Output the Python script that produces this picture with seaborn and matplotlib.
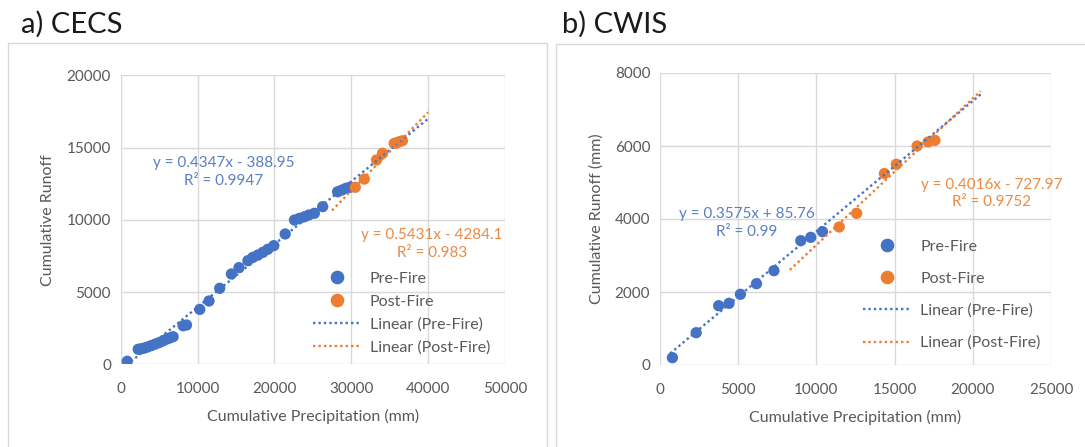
import matplotlib
matplotlib.use("Agg")
import matplotlib.pyplot as plt
import seaborn as sns
import numpy as np
import pandas as pd
from matplotlib.lines import Line2D
from matplotlib.patches import Rectangle

# ---------------- data ----------------
cecs_pre_x = [850, 2280, 2700, 3100, 3500, 4000, 4500, 5000, 5500, 6000, 6400, 6820,
              8120, 8560, 10290, 11490, 12880, 14400, 15390, 16550, 17200, 17850,
              18500, 19140, 19920, 21400, 22610, 23260, 23900, 24470, 25200, 26280,
              28220, 28790, 29310, 29830]
cecs_pre_y = [210, 1040, 1080, 1130, 1200, 1300, 1400, 1500, 1620, 1750, 1830, 1910,
              2670, 2720, 3800, 4380, 5260, 6250, 6690, 7170, 7400, 7560,
              7750, 7960, 8210, 9020, 9985, 10100, 10210, 10330, 10450, 10910,
              11940, 12060, 12180, 12250]
cecs_post_x = [30520, 31690, 33280, 34060, 35580, 35900, 36230, 36650]
cecs_post_y = [12250, 12820, 14140, 14600, 15290, 15320, 15400, 15470]

cwis_pre_x = [792, 2314, 3750, 4414, 5141, 6170, 7284, 9000, 9640, 10390]
cwis_pre_y = [200, 885, 1625, 1690, 1937, 2227, 2584, 3406, 3498, 3652]
cwis_post_x = [11460, 12575, 14345, 15110, 16440, 17140, 17580]
cwis_post_y = [3781, 4155, 5245, 5500, 6000, 6110, 6155]

# trendline equations (slope, intercept) and drawn x-range
cecs_pre_fit = (0.4347, -388.95)
cecs_post_fit = (0.5431, -4284.1)
cwis_pre_fit = (0.3575, 85.76)
cwis_post_fit = (0.4016, -727.97)
cecs_pre_range = [800, 40000]
cecs_post_range = [27500, 40000]
cwis_pre_range = [650, 20500]
cwis_post_range = [8300, 20500]

cecs_pre_label = ["y = 0.4347x - 388.95", "R² = 0.9947"]
cecs_post_label = ["y = 0.5431x - 4284.1", "R² = 0.983"]
cwis_pre_label = ["y = 0.3575x + 85.76", "R² = 0.99"]
cwis_post_label = ["y = 0.4016x - 727.97", "R² = 0.9752"]

# ---------------- style ----------------
sns.set_theme(style="whitegrid")
FONT = ["Lato", "DejaVu Sans"]
plt.rcParams["font.family"] = FONT

BLUE = "#4472C4"
ORANGE = "#ED7D31"
BLUE_TXT = "#5A7FC2"
ORANGE_TXT = "#E98B45"
GRID = "#D9D9D9"
TXT = "#595959"

fig = plt.figure(figsize=(10.85, 4.47), dpi=100)
W, H = 1085, 447


def ax_rect(x0, x1, ytop, ybot):
    return [x0 / W, 1 - ybot / H, (x1 - x0) / W, (ybot - ytop) / H]


ax1 = fig.add_axes(ax_rect(120.7, 505.0, 75.3, 364.3))
ax2 = fig.add_axes(ax_rect(660.0, 1051.0, 73.0, 365.0))

# panel frames
fig.patches.append(Rectangle((8.3 / W, -0.05), (546.7 - 8.3) / W, 1 - 43.3 / H + 0.05,
                             transform=fig.transFigure, fill=False, edgecolor=GRID, lw=1.0))
fig.patches.append(Rectangle((556 / W, -0.05), 0.6, 1 - 44.3 / H + 0.05,
                             transform=fig.transFigure, fill=False, edgecolor=GRID, lw=1.0))

fig.text(21 / W, 1 - 33 / H, "a) CECS", fontsize=21, color="#1a1a1a", va="baseline", ha="left")
fig.text(562 / W, 1 - 33 / H, "b) CWIS", fontsize=21, color="#1a1a1a", va="baseline", ha="left")


def panel(ax, prex, prey, postx, posty, prefit, postfit, prer, postr,
          xlim, xticks, ylim, yticks, ylabel, lab_pre, lab_post,
          pos_pre, pos_post, leg_anchor, leg_spacing):
    df = pd.DataFrame({
        "x": list(prex) + list(postx),
        "y": list(prey) + list(posty),
        "grp": ["Pre-Fire"] * len(prex) + ["Post-Fire"] * len(postx),
    })
    sns.scatterplot(data=df, x="x", y="y", hue="grp",
                    palette={"Pre-Fire": BLUE, "Post-Fire": ORANGE},
                    s=66, edgecolor="none", ax=ax, legend=False, zorder=3)
    for fit, rng, col in [(prefit, prer, BLUE), (postfit, postr, ORANGE)]:
        xs = np.array(rng, dtype=float)
        ys = fit[0] * xs + fit[1]
        sns.lineplot(x=xs, y=ys, ax=ax, color=col, lw=1.7,
                     linestyle=(0, (1.0, 1.3)), zorder=4, legend=False)
    ax.set_xlim(*xlim)
    ax.set_ylim(*ylim)
    ax.set_xticks(xticks)
    ax.set_yticks(yticks)
    ax.grid(True, color=GRID, lw=1.0)
    for s in ax.spines.values():
        s.set_visible(False)
    ax.tick_params(axis="both", colors=GRID, labelcolor=TXT, labelsize=11,
                   length=4, width=1.0, direction="out")
    ax.tick_params(axis="x", pad=9)
    ax.tick_params(axis="y", pad=3)
    ax.set_xlabel("Cumulative Precipitation (mm)", fontsize=11.5, color=TXT, labelpad=9)
    ax.set_ylabel(ylabel, fontsize=11.5, color=TXT, labelpad=8)
    ax.set_facecolor("white")

    ax.text(pos_pre[0], pos_pre[1], lab_pre[0] + "\n" + lab_pre[1], color=BLUE_TXT,
            fontsize=11, ha="center", va="center", linespacing=1.35, zorder=5)
    ax.text(pos_post[0], pos_post[1], lab_post[0] + "\n" + lab_post[1], color=ORANGE_TXT,
            fontsize=11, ha="center", va="center", linespacing=1.35, zorder=5)

    handles = [
        Line2D([], [], marker="o", ls="none", color=BLUE, markersize=8.8, label="Pre-Fire"),
        Line2D([], [], marker="o", ls="none", color=ORANGE, markersize=8.8, label="Post-Fire"),
        Line2D([], [], color=BLUE, lw=1.7, ls=(0, (1.0, 1.3)), label="Linear (Pre-Fire)"),
        Line2D([], [], color=ORANGE, lw=1.7, ls=(0, (1.0, 1.3)), label="Linear (Post-Fire)"),
    ]
    leg = ax.legend(handles=handles, loc="upper left", bbox_to_anchor=leg_anchor,
                    frameon=False, fontsize=11.5, handlelength=3.0, handletextpad=0.55,
                    labelspacing=leg_spacing, borderpad=0, borderaxespad=0)
    for t in leg.get_texts():
        t.set_color(TXT)


panel(ax1, cecs_pre_x, cecs_pre_y, cecs_post_x, cecs_post_y,
      cecs_pre_fit, cecs_post_fit, cecs_pre_range, cecs_post_range,
      (0, 50000), [0, 10000, 20000, 30000, 40000, 50000],
      (0, 20000), [0, 5000, 10000, 15000, 20000],
      "Cumulative Runoff", cecs_pre_label, cecs_post_label,
      (13400, 13300), (40500, 8350), (0.50, 0.32), 0.53)

panel(ax2, cwis_pre_x, cwis_pre_y, cwis_post_x, cwis_post_y,
      cwis_pre_fit, cwis_post_fit, cwis_pre_range, cwis_post_range,
      (0, 25000), [0, 5000, 10000, 15000, 20000, 25000],
      (0, 8000), [0, 2000, 4000, 6000, 8000],
      "Cumulative Runoff (mm)", cwis_pre_label, cwis_post_label,
      (5570, 3880), (21200, 4700), (0.52, 0.43), 1.12)

fig.savefig("out.png", dpi=100, facecolor="white")
